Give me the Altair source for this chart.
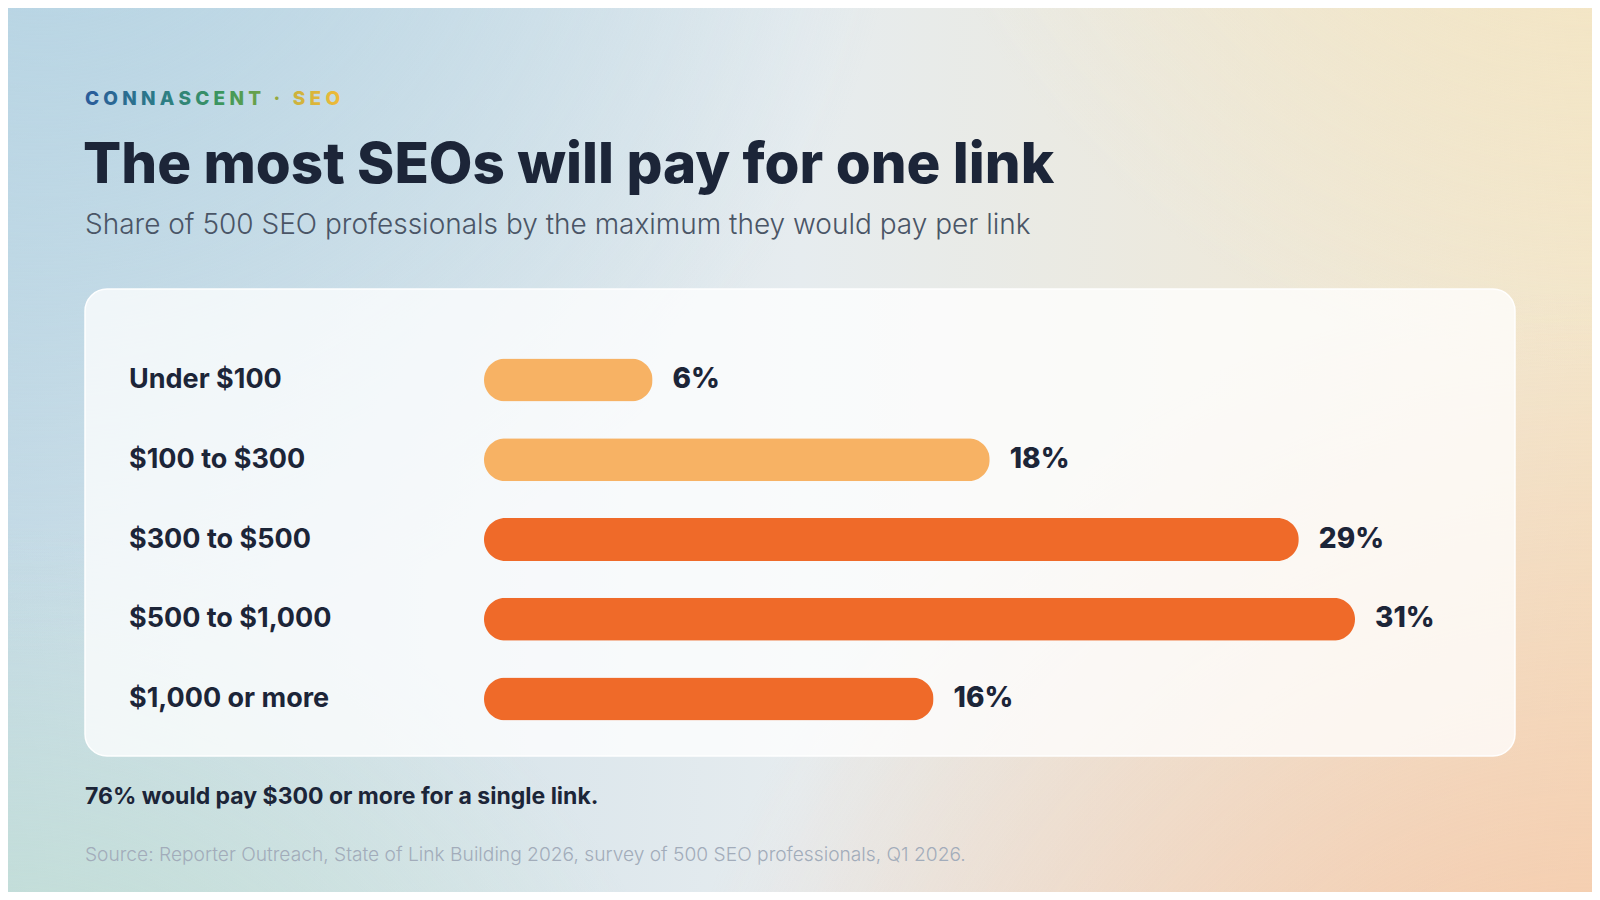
import altair as alt
import pandas as pd

# ---- data ----
categories = ["Under $100", "$100 to $300", "$300 to $500", "$500 to $1,000", "$1,000 or more"]
shares = [6, 18, 29, 31, 16]
tiers = ["under300", "under300", "over300", "over300", "over300"]
value_labels = [f"{v}%" for v in shares]

SP = "\u2009\u200a"
brand_text = SP.join(list("CONNASCENT")) + SP + " " + SP + "·" + SP + " " + SP + SP.join(list("SEO"))
title_text = "The most SEOs will pay for one link"
subtitle_text = "Share of 500 SEO professionals by the maximum they would pay per link"
note_text = "76% would pay $300 or more for a single link."
source_text = "Source: Reporter Outreach, State of Link Building 2026, survey of 500 SEO professionals, Q1 2026."

df = pd.DataFrame({"cat": categories, "val": shares, "tier": tiers, "lab": value_labels})

W, H = 1584, 884
FONT = "Inter"
INK = "#1C2538"

one = pd.DataFrame({"k": [0]})

def full_rect(fill):
    return alt.Chart(one).mark_rect(fill=fill).encode(
        x=alt.value(0), x2=alt.value(W), y=alt.value(0), y2=alt.value(H))

def radial(cx, cy, r, color_rgb, alpha):
    return {"gradient": "radial", "x1": cx, "y1": cy, "r1": 0, "x2": cx, "y2": cy, "r2": r,
            "stops": [{"offset": 0, "color": f"rgba({color_rgb},{alpha})"},
                      {"offset": 1, "color": f"rgba({color_rgb},0)"}]}

bg_base = full_rect({"gradient": "linear", "x1": 0, "y1": 0, "x2": 1, "y2": 0,
                     "stops": [{"offset": 0, "color": "#C6DBE6"},
                               {"offset": 0.5, "color": "#E6ECEF"},
                               {"offset": 1, "color": "#F3E6CB"}]})
bg_tl = full_rect(radial(0.02, 0.08, 0.55, "180,211,227", 0.95))
bg_tr = full_rect(radial(1.0, 0.0, 0.45, "243,229,192", 0.95))
bg_br = full_rect(radial(1.0, 1.0, 0.6, "246,192,160", 0.95))
bg_bl = full_rect(radial(0.0, 1.0, 0.45, "192,224,204", 0.95))

card = alt.Chart(one).mark_rect(
    fill="rgba(255,255,255,0.76)", stroke="rgba(255,255,255,0.95)", strokeWidth=1.5,
    cornerRadius=22).encode(
    x=alt.value(77), x2=alt.value(1507), y=alt.value(281), y2=alt.value(748))

def text_layer(txt, x, y, size, weight, color, baseline="alphabetic"):
    return alt.Chart(one).mark_text(
        text=txt, align="left", baseline=baseline, font=FONT, fontSize=size,
        fontWeight=weight, fill=color).encode(x=alt.value(x), y=alt.value(y))

brand = text_layer(brand_text, 77, 97, 19, 800,
                   {"gradient": "linear", "x1": 0, "y1": 0, "x2": 1, "y2": 0,
                    "stops": [{"offset": 0, "color": "#2A5B9B"},
                              {"offset": 0.3, "color": "#2C7C86"},
                              {"offset": 0.55, "color": "#3E985A"},
                              {"offset": 0.72, "color": "#79A444"},
                              {"offset": 0.82, "color": "#CDB23C"},
                              {"offset": 1, "color": "#EEBA38"}]})
title = text_layer(title_text, 75, 175, 56.5, 800, INK)
subtitle = text_layer(subtitle_text, 77, 226, 28, 300, "#4A5566")
note = text_layer(note_text, 77, 796, 23, 700, INK)
source = text_layer(source_text, 77, 853, 19.2, 300, "#A2ACBA")

y_enc = alt.Y("cat:N", sort=categories,
              scale=alt.Scale(domain=categories, range=[332, 731], paddingInner=0, paddingOuter=0),
              axis=None)
x_enc = alt.X("val:Q", scale=alt.Scale(domain=[0, 31], range=[476, 1347], nice=False, zero=True),
              axis=None)

bars = alt.Chart(df).mark_bar(size=43, cornerRadius=21.5).encode(
    x=x_enc, y=y_enc,
    color=alt.Color("tier:N", scale=alt.Scale(domain=["under300", "over300"],
                                              range=["#F7B264", "#EF6A29"]), legend=None))

cat_labels = alt.Chart(df).mark_text(
    align="left", baseline="middle", font=FONT, fontSize=27, fontWeight=700, fill=INK).encode(
    x=alt.value(121), y=y_enc, text="cat:N")

val_labels = alt.Chart(df).mark_text(
    align="left", baseline="middle", dx=20, font=FONT, fontSize=28, fontWeight=800, fill=INK).encode(
    x=x_enc, y=y_enc, text="lab:N")

chart = alt.layer(
    bg_base, bg_tl, bg_tr, bg_br, bg_bl, card, brand, title, subtitle,
    bars, cat_labels, val_labels, note, source
).properties(
    width=W, height=H, autosize=alt.AutoSizeParams(type="none"), padding=0,
    background="#E9EEF0"
).configure_view(stroke=None)

chart.save("out.html", embed_options={"renderer": "svg", "actions": False})
